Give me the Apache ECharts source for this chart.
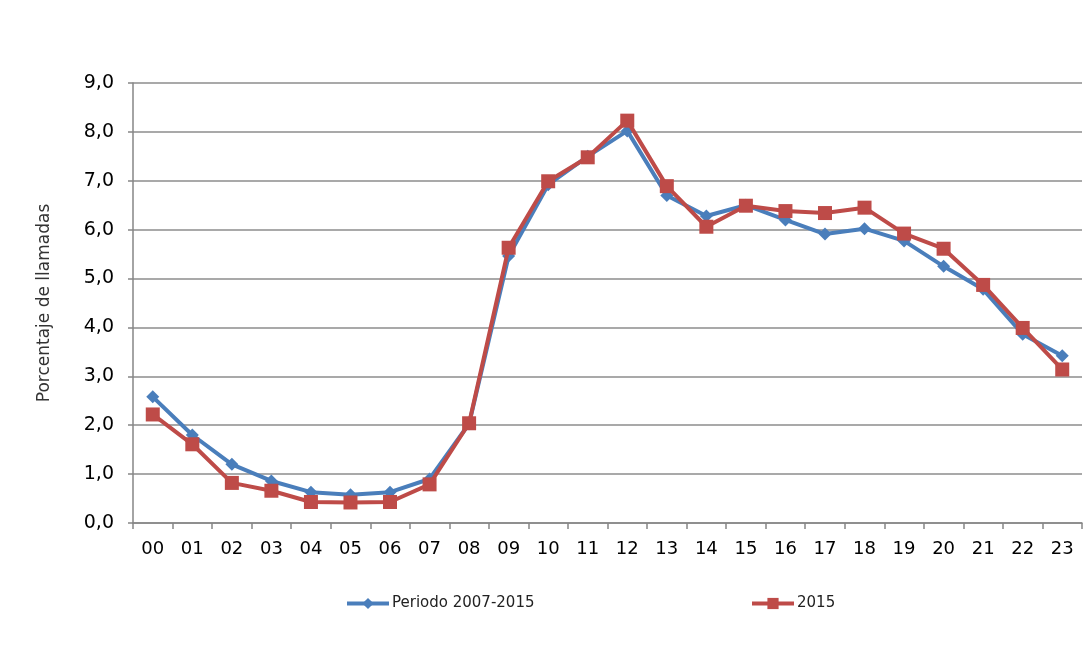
<!DOCTYPE html>
<html>
<head>
<meta charset="utf-8">
<script src="https://cdn.jsdelivr.net/npm/echarts@6/dist/echarts.min.js"></script>
<style>html,body{margin:0;padding:0;background:#fff}#c{width:1084px;height:663px}</style>
</head>
<body>
<div id="c"></div>
<script>
const hours = ['00','01','02','03','04','05','06','07','08','09','10','11','12','13','14','15','16','17','18','19','20','21','22','23'];
const periodo = [2.58,1.8,1.2,0.86,0.63,0.58,0.63,0.9,2.03,5.46,6.92,7.5,8.02,6.7,6.28,6.5,6.2,5.91,6.02,5.77,5.25,4.78,3.86,3.42];
const anio2015 = [2.22,1.61,0.82,0.66,0.43,0.42,0.43,0.79,2.04,5.63,6.99,7.48,8.23,6.89,6.06,6.49,6.38,6.34,6.45,5.92,5.61,4.87,3.99,3.14];
const seriesNames = ['Periodo 2007-2015','2015'];
const yTicks = {min:0, max:9, interval:1};

const font = '"DejaVu Sans", sans-serif';
const chart = echarts.init(document.getElementById('c'));
const legendBase = {itemWidth:42, itemHeight:14, itemGap:4, lineStyle:{width:4},
  textStyle:{fontFamily:font, fontSize:15, color:'#222', padding:[0,0,0,-2]}};
chart.setOption({
  animation:false,
  backgroundColor:'#fff',
  grid:{left:133, right:2, top:83, bottom:140, containLabel:false},
  legend:[
    Object.assign({data:[seriesNames[0]], left:340, top:591}, legendBase),
    Object.assign({data:[seriesNames[1]], left:745, top:591}, legendBase)
  ],
  xAxis:{
    type:'category', data:hours, boundaryGap:true,
    axisLine:{lineStyle:{color:'#868686', width:1.5}},
    axisTick:{show:true, alignWithLabel:false, length:6, lineStyle:{color:'#868686', width:1.5}},
    axisLabel:{fontFamily:font, fontSize:18, color:'#000', margin:17}
  },
  yAxis:{
    type:'value', min:yTicks.min, max:yTicks.max, interval:yTicks.interval,
    name:'Porcentaje de llamadas', nameLocation:'middle', nameGap:80, nameRotate:90,
    nameTextStyle:{fontFamily:font, fontSize:17, color:'#333'},
    axisLine:{show:true, lineStyle:{color:'#868686', width:1.5}},
    axisTick:{show:true, length:5, lineStyle:{color:'#868686', width:1.5}},
    splitLine:{lineStyle:{color:'#8c8c8c', width:1.5}},
    axisLabel:{fontFamily:font, fontSize:19, color:'#000', margin:19,
      formatter:v=>v.toFixed(1).replace('.',',')}
  },
  series:[
    {name:seriesNames[0], type:'line', data:periodo, symbol:'diamond', symbolSize:13,
     lineStyle:{color:'#4A7EBB', width:4}, itemStyle:{color:'#4A7EBB'}, z:2},
    {name:seriesNames[1], type:'line', data:anio2015, symbol:'rect', symbolSize:14,
     lineStyle:{color:'#BE4B48', width:4}, itemStyle:{color:'#BE4B48'}, z:3}
  ]
});
</script>
</body>
</html>
